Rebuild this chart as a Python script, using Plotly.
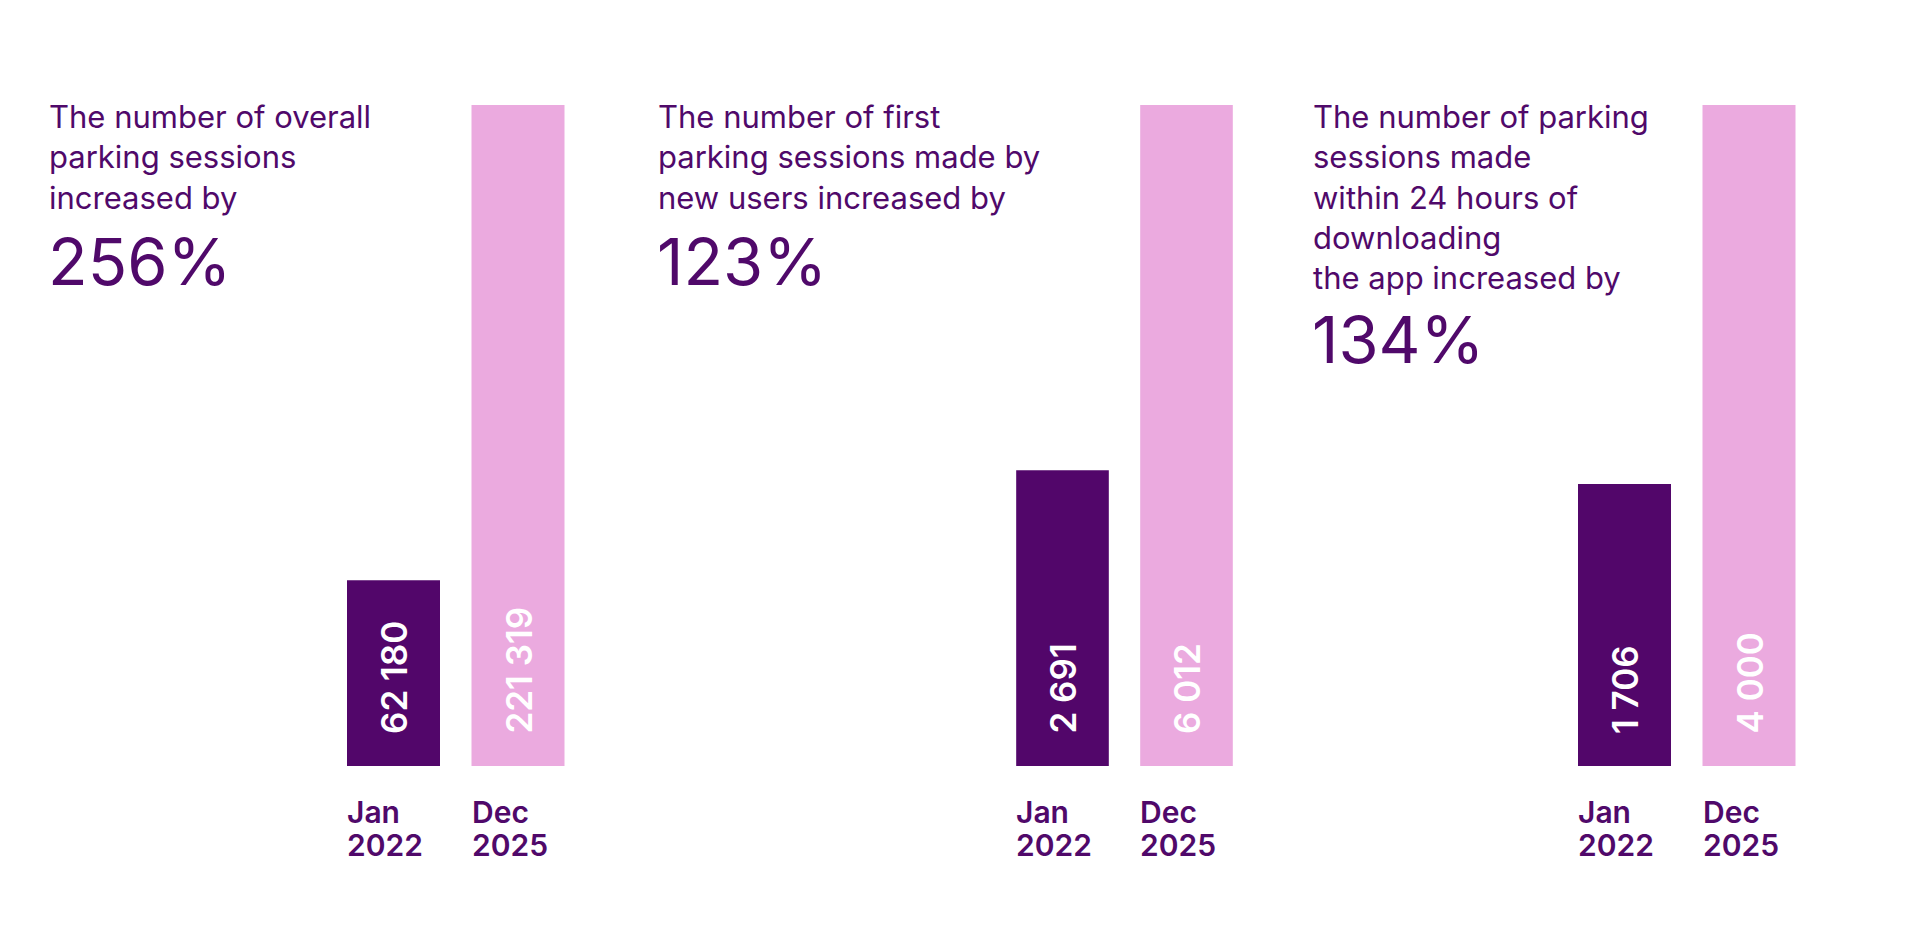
import plotly.graph_objects as go

# ---- data ----
categories = ["Jan 2022", "Dec 2025"]
overall_sessions = [62180, 221319]
first_sessions_new_users = [2691, 6012]
sessions_within_24h = [1706, 4000]

headings = [
    "The number of overall<br>parking sessions<br>increased by",
    "The number of first<br>parking sessions made by<br>new users increased by",
    "The number of parking<br>sessions made<br>within 24 hours of<br>downloading<br>the app increased by",
]
increases = ["256%", "123%", "134%"]
series = [overall_sessions, first_sessions_new_users, sessions_within_24h]

# ---- style ----
W, H = 1920, 926
DARK = "#52066A"
PINK = "#EBAADF"
TEXT = "#50096A"
FONT = "Inter"
bar_colors = [DARK, PINK]

# pixel layout helpers
y_bottom_px, y_top_px = 766, 105
x_domains_px = [(331.25, 580.25), (1000.5, 1248.5), (1562.25, 1811.25)]
heading_left_px = [47, 656, 1311]
heading_lines = [3, 3, 5]
bar_half_px = 46.5

fig = go.Figure()
annotations = []

for i, vals in enumerate(series):
    n = "" if i == 0 else str(i + 1)
    xa, ya = "x" + n, "y" + n
    fig.add_trace(go.Bar(
        x=categories, y=vals, xaxis=xa, yaxis=ya,
        marker=dict(color=bar_colors, line=dict(width=0)),
        hoverinfo="skip", showlegend=False,
    ))
    d0, d1 = x_domains_px[i]
    fig.layout["xaxis" + n] = dict(
        domain=[d0 / W, d1 / W], anchor=ya, type="category",
        range=[-0.5, 1.5], visible=False, fixedrange=True,
    )
    fig.layout["yaxis" + n] = dict(
        domain=[1 - y_bottom_px / H, 1 - y_top_px / H], anchor=xa,
        range=[0, max(vals)], visible=False, fixedrange=True,
    )
    # value labels inside bars (rotated)
    for c, v in zip(categories, vals):
        annotations.append(dict(
            x=c, y=0, xref=xa, yref=ya, text=f"{v:,}".replace(",", " "),
            textangle=-90, showarrow=False, xanchor="center", yanchor="bottom",
            yshift=30, font=dict(family=FONT, size=35, color="white", weight=600),
        ))
        # category labels, left-aligned under bars
        for k, line in enumerate(c.split(" ")):
            annotations.append(dict(
                x=c, y=0, xref=xa, yref=ya, text=line, showarrow=False,
                xanchor="left", yanchor="top", xshift=-bar_half_px - 2,
                yshift=-26 - 33 * k, align="left",
                font=dict(family=FONT, size=30, color=TEXT, weight=600),
            ))
    # heading
    annotations.append(dict(
        x=heading_left_px[i] / W, y=1 - 96 / H, xref="paper", yref="paper",
        text=headings[i], showarrow=False, xanchor="left", yanchor="top",
        align="left", font=dict(family=FONT, size=31, color=TEXT),
    ))
    pct_top_px = 127 + (heading_lines[i] - 1) * 39 + 31 - 16
    annotations.append(dict(
        x=heading_left_px[i] / W - 0.0005, y=1 - pct_top_px / H, xref="paper", yref="paper",
        text=increases[i], showarrow=False, xanchor="left", yanchor="top",
        align="left", font=dict(family=FONT, size=65, color=TEXT),
    ))

fig.update_layout(
    width=W, height=H, margin=dict(l=0, r=0, t=0, b=0),
    paper_bgcolor="white", plot_bgcolor="white",
    bargap=0.253, annotations=annotations,
)

fig.write_html("out.html", config={"displayModeBar": False})
